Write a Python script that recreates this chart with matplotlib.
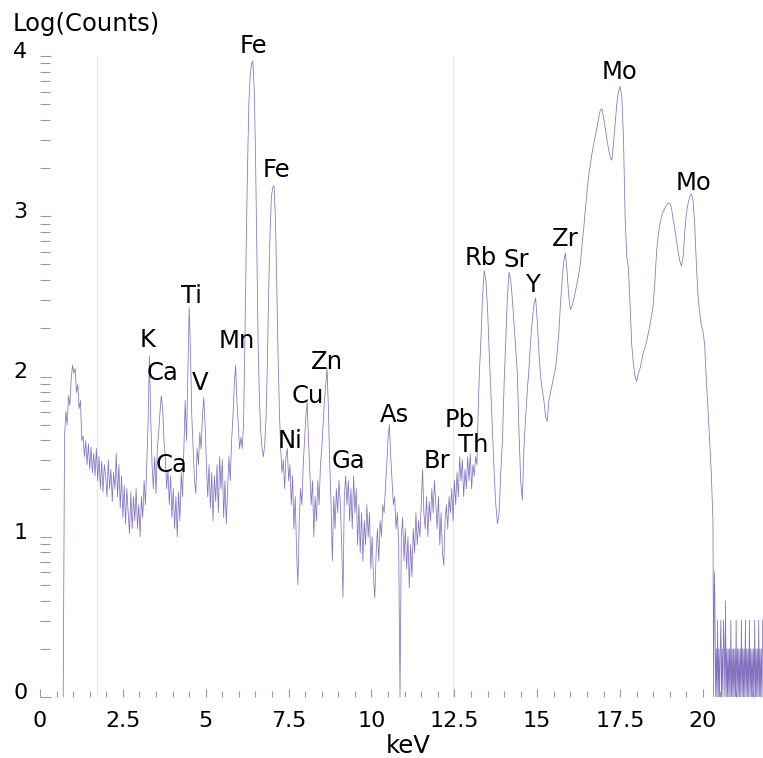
import numpy as np
import matplotlib
matplotlib.use("Agg")
import matplotlib.pyplot as plt
import matplotlib.transforms as mtransforms

plt.rcParams['font.family'] = ['DejaVu Sans']

# log10(counts), 0.70 - 13.26 keV every 0.04 keV
low_start, low_step = 0.70, 0.04
low_counts = [
    0.00, 1.62, 1.78, 1.70, 1.88, 1.82, 1.98, 2.07, 2.02, 2.05, 1.90, 1.95, 1.80, 1.85, 1.60, 1.63, 1.50, 1.60, 1.45, 1.58, 1.42, 1.56, 1.40, 1.52, 1.38,
    1.55, 1.35, 1.50, 1.30, 1.47, 1.28, 1.45, 1.38, 1.25, 1.48, 1.30, 1.42, 1.22, 1.40, 1.30, 1.52, 1.25, 1.45, 1.18, 1.38, 1.12, 1.32, 1.08, 1.30, 1.15,
    1.02, 1.28, 1.05, 1.25, 1.10, 1.30, 1.05, 1.20, 1.00, 1.25, 1.12, 1.35, 1.20, 1.45, 1.70, 2.13, 1.75, 1.45, 1.30, 1.50, 1.27, 1.55, 1.65, 1.78, 1.88,
    1.80, 1.60, 1.50, 1.30, 1.42, 1.20, 1.38, 1.12, 1.30, 1.05, 1.25, 1.00, 1.28, 1.10, 1.40, 1.25, 1.55, 1.85, 1.60, 2.00, 2.43, 2.15, 1.75, 1.55, 1.35,
    1.27, 1.55, 1.45, 1.65, 1.55, 1.75, 1.87, 1.70, 1.45, 1.25, 1.45, 1.18, 1.40, 1.10, 1.38, 1.22, 1.45, 1.15, 1.50, 1.30, 1.48, 1.12, 1.35, 1.08, 1.30,
    1.50, 1.35, 1.60, 1.75, 1.95, 2.07, 1.85, 1.70, 1.55, 1.62, 1.55, 1.70, 2.20, 2.80, 3.30, 3.70, 3.88, 3.95, 3.97, 3.80, 3.40, 2.80, 2.20, 1.85, 1.65,
    1.55, 1.50, 1.58, 1.75, 2.10, 2.55, 2.90, 3.12, 3.18, 3.19, 3.00, 2.60, 2.15, 1.80, 1.55, 1.40, 1.48, 1.30, 1.50, 1.55, 1.35, 1.45, 1.20, 1.38, 1.05,
    1.25, 0.90, 0.70, 1.10, 1.30, 1.20, 1.45, 1.60, 1.75, 1.84, 1.60, 1.40, 1.20, 1.35, 1.00, 1.25, 1.10, 1.35, 1.20, 1.45, 1.55, 1.70, 1.85, 1.95, 2.05,
    1.80, 1.45, 1.20, 0.85, 1.25, 1.05, 1.30, 1.15, 1.35, 1.20, 0.95, 0.62, 1.25, 1.38, 1.20, 1.35, 1.10, 1.30, 1.05, 1.38, 1.15, 1.30, 0.95, 1.20, 0.90,
    1.15, 0.85, 1.10, 0.95, 1.20, 1.00, 1.15, 0.80, 1.00, 0.75, 0.62, 0.90, 1.05, 0.85, 1.10, 1.00, 1.20, 1.15, 1.30, 1.45, 1.62, 1.70, 1.50, 1.35, 1.20,
    1.25, 1.05, 1.15, 0.95, 0.00, 1.00, 1.12, 0.85, 1.05, 0.80, 1.00, 0.68, 0.95, 0.75, 1.05, 0.90, 1.15, 0.95, 1.10, 1.00, 1.20, 1.42, 1.15, 1.05, 1.25,
    1.00, 1.22, 1.10, 1.30, 1.15, 1.35, 1.20, 1.05, 1.25, 0.95, 1.15, 0.90, 0.82, 1.10, 1.20, 1.05, 1.25, 1.15, 1.30, 1.10, 1.35, 1.20, 1.40, 1.25, 1.50,
    1.35, 1.48, 1.25, 1.42, 1.30, 1.50, 1.35, 1.52, 1.30, 1.45, 1.38, 1.50, 1.45, 1.80, 2.05,
]

# 13.30 - 20.30 keV every 0.05 keV
mid_start, mid_step = 13.30, 0.05
mid_counts = [
    2.22, 2.50, 2.66, 2.60, 2.43, 2.15, 1.91, 1.65, 1.40, 1.20,
    1.08, 1.15, 1.40, 1.60, 1.95, 2.22, 2.50, 2.65, 2.60, 2.48,
    2.33, 2.18, 2.02, 1.65, 1.35, 1.23, 1.56, 1.75, 1.91, 2.05,
    2.22, 2.35, 2.45, 2.49, 2.35, 2.15, 2.00, 1.92, 1.85, 1.75,
    1.72, 1.85, 1.90, 1.95, 2.00, 2.05, 2.15, 2.27, 2.45, 2.60,
    2.72, 2.77, 2.65, 2.50, 2.42, 2.44, 2.48, 2.53, 2.58, 2.64,
    2.70, 2.82, 2.92, 3.04, 3.15, 3.25, 3.32, 3.39, 3.45, 3.50,
    3.55, 3.61, 3.66, 3.67, 3.62, 3.55, 3.48, 3.42, 3.37, 3.35,
    3.45, 3.58, 3.70, 3.78, 3.81, 3.75, 3.50, 3.00, 2.75, 2.68,
    2.45, 2.20, 2.08, 2.00, 1.97, 2.02, 2.05, 2.10, 2.15, 2.18,
    2.22, 2.27, 2.32, 2.38, 2.45, 2.60, 2.78, 2.88, 2.95, 3.00,
    3.03, 3.05, 3.07, 3.08, 3.08, 3.05, 2.98, 2.92, 2.85, 2.78,
    2.72, 2.69, 2.75, 2.90, 3.02, 3.08, 3.12, 3.14, 3.10, 2.95,
    2.70, 2.50, 2.40, 2.32, 2.28, 2.20, 1.98, 1.80, 1.60, 1.40,
    1.10,
]

# 20.32 keV onwards every 0.02 keV (single counts: log 1, 2, 3, 4, 6)
tail_start, tail_step = 20.32, 0.02
tail_counts = [
    0.00, 0.78, 0.60, 0.00, 0.30, 0.00, 0.48, 0.00, 0.30, 0.00, 0.30, 0.48, 0.00, 0.30, 0.00,
    0.48, 0.30, 0.00, 0.60, 0.00, 0.30, 0.00, 0.30, 0.00, 0.30, 0.00, 0.48, 0.00, 0.30, 0.00,
    0.30, 0.00, 0.30, 0.00, 0.48, 0.00, 0.30, 0.00, 0.30, 0.00, 0.30, 0.00, 0.48, 0.00, 0.30,
    0.00, 0.30, 0.00, 0.48, 0.00, 0.30, 0.00, 0.30, 0.00, 0.48, 0.00, 0.30, 0.00, 0.30, 0.00,
    0.30, 0.00, 0.48, 0.00, 0.30, 0.00, 0.30, 0.00, 0.48, 0.00, 0.30, 0.00, 0.30, 0.00, 0.48,
]

peak_names = ["Fe", "Fe", "Mo", "Mo", "Rb", "Sr", "Zr", "Y", "Ti", "K", "Mn", "Ca", "V",
              "Zn", "Cu", "Ni", "As", "Pb", "Th", "Ca", "Ga", "Br"]
peak_kev = [6.43, 7.12, 17.47, 19.70, 13.30, 14.36, 15.84, 14.90, 4.56, 3.23, 5.94, 3.71, 4.83,
            8.66, 8.08, 7.54, 10.68, 12.67, 13.06, 3.98, 9.29, 11.98]
peak_logc = [4.06, 3.29, 3.90, 3.21, 2.74, 2.73, 2.86, 2.57, 2.50, 2.23, 2.22, 2.02, 1.96,
             2.09, 1.88, 1.60, 1.76, 1.73, 1.57, 1.45, 1.47, 1.47]

x_ticks = [0, 2.5, 5, 7.5, 10, 12.5, 15, 17.5, 20]
x_labels = ["0", "2.5", "5", "7.5", "10", "12.5", "15", "17.5", "20"]
y_ticks = [0, 1, 2, 3, 4]
y_labels = ["0", "1", "2", "3", "4"]

kev = np.concatenate([
    low_start + low_step * np.arange(len(low_counts)),
    mid_start + mid_step * np.arange(len(mid_counts)),
    tail_start + tail_step * np.arange(len(tail_counts)),
])
logc = np.concatenate([low_counts, mid_counts, tail_counts])

fig = plt.figure(figsize=(7.63, 7.58), dpi=100)
ax = fig.add_axes([40 / 763, 61 / 758, 723 / 763, 641 / 758])

ax.vlines([1.72, 12.47], 0, 4.0, color="#e6e6e6", lw=0.8, zorder=1)
ax.plot(kev, logc, color="#7563b8", lw=0.55, alpha=0.9, zorder=2)

for s in ax.spines.values():
    s.set_visible(False)

ax.set_xlim(0, 21.81)
ax.set_ylim(0, 4)

ax.set_xticks(x_ticks)
ax.set_xticklabels(x_labels)
ax.set_xticks(np.arange(0, 21.8, 0.5), minor=True)
ax.set_yticks(y_ticks)
ax.set_yticklabels(y_labels)
minor_y = [n + np.log10(k) for n in range(4) for k in range(2, 10)]
ax.set_yticks(minor_y, minor=True)

ax.tick_params(axis="both", which="both", direction="in", colors="#999999",
               labelcolor="black", labelsize=16, width=0.8)
ax.tick_params(axis="x", which="major", length=6, pad=10)
ax.tick_params(axis="x", which="minor", length=4)
ax.tick_params(axis="y", which="major", length=8, pad=9)
ax.tick_params(axis="y", which="minor", length=7)

shift = mtransforms.ScaledTranslation(0, 6 / 100, fig.dpi_scale_trans)
for lab in ax.get_yticklabels():
    lab.set_transform(lab.get_transform() + shift)

for name, x, y in zip(peak_names, peak_kev, peak_logc):
    ax.text(x, y, name, fontsize=17.5, ha="center", va="center", color="black")

fig.text(13 / 763, 1 - 24 / 758, "Log(Counts)", fontsize=17.5, ha="left", va="center")
fig.text(408 / 763, 1 - 746 / 758, "keV", fontsize=17.5, ha="center", va="center")

fig.savefig("out.png", dpi=100)
